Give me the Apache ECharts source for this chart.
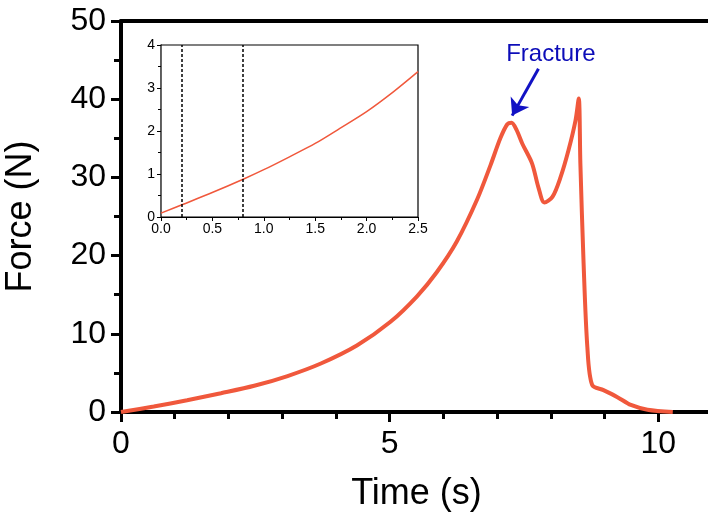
<!DOCTYPE html>
<html>
<head>
<meta charset="utf-8">
<script src="https://cdn.jsdelivr.net/npm/echarts@6/dist/echarts.min.js"></script>
<style>
  html, body { margin: 0; padding: 0; background: #fff; }
  #main { width: 708px; height: 517px; }
</style>
</head>
<body>
<div id="main"></div>
<script>
// main force curve (time s, force N)
var mainTime  = [0, 0.61, 1.23, 1.86, 2.48, 3.1, 3.72, 4.39, 5.01, 5.51, 5.88, 6.25, 6.63, 6.88, 7.06, 7.19, 7.27, 7.36, 7.47, 7.65, 7.77, 7.88, 8.03, 8.18, 8.33, 8.46, 8.52, 8.55, 8.61, 8.68, 8.77, 8.98, 9.24, 9.49, 9.8, 10.27];
var mainForce = [0, 0.7, 1.5, 2.4, 3.35, 4.6, 6.2, 8.5, 11.5, 14.8, 17.9, 21.8, 27.2, 31.6, 35.0, 36.8, 37.0, 36.1, 34.3, 31.8, 28.7, 26.8, 27.5, 30.0, 33.5, 37.3, 40.1, 31.8, 19.0, 8.3, 3.45, 2.8, 1.9, 0.9, 0.3, 0];

// inset: first 2.5 s
var insetTime  = [0, 0.21, 0.51, 0.81, 1.0, 1.25, 1.5, 1.74, 2.0, 2.26, 2.5];
var insetForce = [0.09, 0.29, 0.58, 0.89, 1.1, 1.4, 1.71, 2.06, 2.45, 2.91, 3.38];
var insetMarks = [0.2, 0.8];

// fracture annotation
var arrowFrom = [7.77, 43.9];
var arrowTo   = [7.28, 37.9];
var labelAt   = [8.0, 45.7];

var font = 'Liberation Sans, Arial, sans-serif';
var red = '#f0583c';

function pairs(xs, ys) {
    var out = [];
    for (var i = 0; i < xs.length; i++) out.push([xs[i], ys[i]]);
    return out;
}

var myChart = echarts.init(document.getElementById('main'));
var option = {
    animation: false,
    backgroundColor: '#fff',
    grid: [
        {left: 121, top: 21, right: -4, bottom: 105, outerBoundsMode: 'none', containLabel: false},
        {left: 161, top: 45, width: 257, height: 172, show: true, outerBoundsMode: 'none', containLabel: false,
         borderColor: '#000', borderWidth: 1.2, backgroundColor: '#fff', z: 3}
    ],
    xAxis: [
        {
            gridIndex: 0, type: 'value', min: 0, max: 11, interval: 5,
            name: 'Time (s)', nameLocation: 'middle', nameGap: 64,
            nameTextStyle: {fontFamily: font, fontSize: 36, color: '#000'},
            axisLine: {lineStyle: {color: '#000', width: 4}},
            axisTick: {length: 10, lineStyle: {width: 3}},
            minorTick: {show: true, splitNumber: 5, length: 7, lineStyle: {color: '#000', width: 3}},
            splitLine: {show: false},
            axisLabel: {fontFamily: font, fontSize: 32, color: '#000', margin: 16,
                formatter: function (v) { return v > 10 ? '' : v; }}
        },
        {
            gridIndex: 0, type: 'value', position: 'top', min: 0, max: 11,
            axisLine: {show: true, lineStyle: {color: '#000', width: 4}},
            axisTick: {show: false}, axisLabel: {show: false}, splitLine: {show: false}
        },
        {
            gridIndex: 1, type: 'value', min: 0, max: 2.5, interval: 0.5,
            axisLine: {lineStyle: {color: '#000', width: 1.2}},
            axisTick: {length: 4, lineStyle: {width: 1}},
            minorTick: {show: true, splitNumber: 2, length: 3, lineStyle: {color: '#000'}},
            splitLine: {show: false},
            axisLabel: {fontFamily: font, fontSize: 14, color: '#000', margin: 5,
                formatter: function (v) { return v.toFixed(1); }}
        }
    ],
    yAxis: [
        {
            gridIndex: 0, type: 'value', min: 0, max: 50, interval: 10,
            name: 'Force (N)', nameLocation: 'middle', nameGap: 82, nameRotate: 90,
            nameTextStyle: {fontFamily: font, fontSize: 36, color: '#000'},
            axisLine: {show: true, lineStyle: {color: '#000', width: 4}},
            axisTick: {show: true, length: 10, lineStyle: {width: 3}},
            minorTick: {show: true, splitNumber: 2, length: 7, lineStyle: {color: '#000', width: 3}},
            splitLine: {show: false},
            axisLabel: {fontFamily: font, fontSize: 32, color: '#000', margin: 15}
        },
        {
            gridIndex: 1, type: 'value', min: 0, max: 4, interval: 1,
            axisLine: {show: true, lineStyle: {color: '#000', width: 1.2}},
            axisTick: {show: true, length: 4, lineStyle: {width: 1}},
            minorTick: {show: true, splitNumber: 2, length: 3, lineStyle: {color: '#000'}},
            splitLine: {show: false},
            axisLabel: {fontFamily: font, fontSize: 14, color: '#000', margin: 6}
        }
    ],
    series: [
        {
            type: 'line', xAxisIndex: 0, yAxisIndex: 0,
            data: pairs(mainTime, mainForce),
            showSymbol: false, smooth: 0.3,
            lineStyle: {color: red, width: 4},
            z: 2,
            markLine: {
                silent: true, animation: false,
                symbol: ['none', 'arrow'], symbolSize: [16, 16],
                lineStyle: {color: '#1212c4', width: 3, type: 'solid'},
                label: {show: false},
                data: [[{coord: arrowFrom}, {coord: arrowTo}]]
            },
            markPoint: {
                silent: true, animation: false,
                symbol: 'circle', symbolSize: 0,
                label: {show: true, position: 'inside', formatter: 'Fracture',
                    fontFamily: font, fontSize: 24, color: '#0c0cb8'},
                data: [{coord: labelAt}]
            }
        },
        {
            type: 'line', xAxisIndex: 2, yAxisIndex: 1,
            data: pairs(insetTime, insetForce),
            showSymbol: false, smooth: 0.3,
            lineStyle: {color: red, width: 1.5},
            z: 4,
            markLine: {
                silent: true, animation: false, symbol: 'none',
                lineStyle: {color: '#000', width: 1.5, type: [3, 2]},
                label: {show: false},
                data: insetMarks.map(function (x) { return {xAxis: x}; })
            }
        }
    ]
};
myChart.setOption(option);
</script>
</body>
</html>
